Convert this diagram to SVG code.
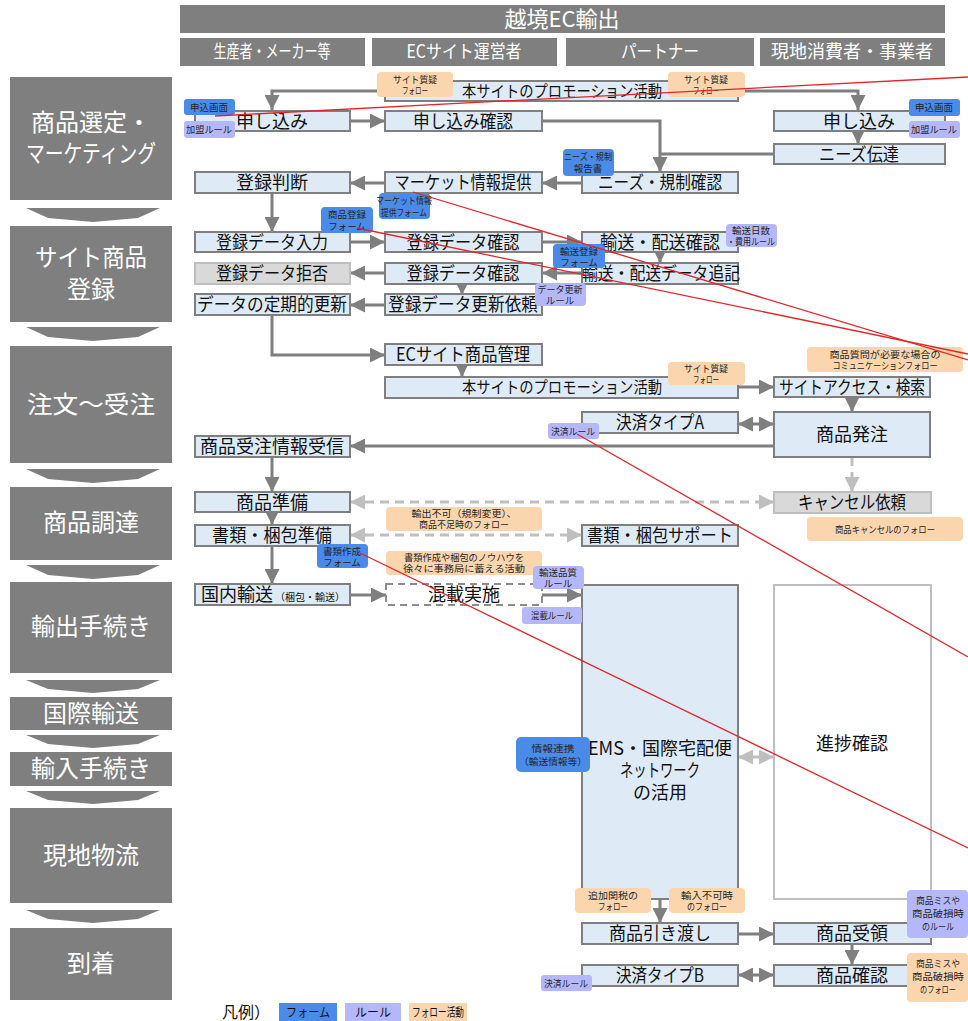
<svg xmlns="http://www.w3.org/2000/svg" width="968" height="1021" viewBox="0 0 968 1021">
<style>
text{font-family:"Noto Sans CJK JP","Noto Sans",sans-serif}
.n{fill:#deebf7;stroke:#7f7f7f;stroke-width:2}
.g{fill:#d9d9d9;stroke:#bfbfbf;stroke-width:2}
.w{fill:#fff;stroke:#bfbfbf;stroke-width:2}
.d{fill:#fff;stroke:#8c8c8c;stroke-width:2;stroke-dasharray:7 5}
.t{font-size:18px;fill:#111;text-anchor:middle}
.ph{fill:#7f7f7f}
.pt{font-size:24px;fill:#fff;text-anchor:middle}
.hd{font-size:18px;fill:#fff;text-anchor:middle}
.tb{fill:#4a8ae8}
.tr{fill:#b4b8fa}
.to{fill:#fad5ad}
.tt{font-size:9.5px;fill:#262626;text-anchor:middle}
.c{fill:none;stroke:#7f7f7f;stroke-width:3}
.cl{fill:none;stroke:#bfbfbf;stroke-width:3}
.cd{fill:none;stroke:#bfbfbf;stroke-width:3;stroke-dasharray:9 6}
.red{stroke:#e3262b;stroke-width:1.3;fill:none}
</style>
<defs>
<marker id="a" viewBox="0 0 10 10" refX="10" refY="5" markerWidth="16" markerHeight="15" markerUnits="userSpaceOnUse" orient="auto-start-reverse"><path d="M0,0 L10,5 L0,10 z" fill="#7f7f7f"/></marker>
<marker id="al" viewBox="0 0 10 10" refX="10" refY="5" markerWidth="16" markerHeight="15" markerUnits="userSpaceOnUse" orient="auto-start-reverse"><path d="M0,0 L10,5 L0,10 z" fill="#bfbfbf"/></marker>
</defs>
<rect width="968" height="1021" fill="#fff"/>

<!-- header -->
<g id="title"><rect x="180" y="5" width="765" height="28" class="ph"/><text x="562" y="27" font-size="22" fill="#fff" text-anchor="middle">越境EC輸出</text></g>
<g id="col-producer"><rect x="180" y="38" width="185" height="28" class="ph"/><text x="272" y="58" class="hd" textLength="117" lengthAdjust="spacingAndGlyphs">生産者・メーカー等</text></g>
<g id="col-ec"><rect x="372" y="38" width="185" height="28" class="ph"/><text x="464" y="58" class="hd" textLength="115" lengthAdjust="spacingAndGlyphs">ECサイト運営者</text></g>
<g id="col-partner"><rect x="566" y="38" width="188" height="28" class="ph"/><text x="660" y="58" class="hd" textLength="78" lengthAdjust="spacingAndGlyphs">パートナー</text></g>
<g id="col-local"><rect x="760" y="38" width="185" height="28" class="ph"/><text x="852" y="58" class="hd">現地消費者・事業者</text></g>

<!-- phases -->
<g id="phases">
<rect x="10" y="77" width="162" height="123" class="ph"/><text class="pt"><tspan x="91" y="131">商品選定・</tspan><tspan x="91" y="162" textLength="130" lengthAdjust="spacingAndGlyphs">マーケティング</tspan></text>
<polygon points="26,208 160,208 138,218 93,222 48,218" class="ph"/>
<rect x="10" y="226" width="162" height="96" class="ph"/><text class="pt"><tspan x="91" y="266" textLength="112" lengthAdjust="spacingAndGlyphs">サイト商品</tspan><tspan x="91" y="298">登録</tspan></text>
<polygon points="26,327 160,327 138,337 93,341 48,337" class="ph"/>
<rect x="10" y="346" width="162" height="117" class="ph"/><text x="91" y="413" class="pt" textLength="128" lengthAdjust="spacingAndGlyphs">注文〜受注</text>
<polygon points="26,469 160,469 138,479 93,483 48,479" class="ph"/>
<rect x="10" y="487" width="162" height="73" class="ph"/><text x="91" y="531" class="pt">商品調達</text>
<polygon points="26,565 160,565 138,575 93,579 48,575" class="ph"/>
<rect x="10" y="582" width="162" height="91" class="ph"/><text x="91" y="635" class="pt">輸出手続き</text>
<polygon points="26,680 160,680 138,689 93,693 48,689" class="ph"/>
<rect x="10" y="697" width="162" height="33" class="ph"/><text x="91" y="722" class="pt">国際輸送</text>
<polygon points="26,735 160,735 138,744 93,748 48,744" class="ph"/>
<rect x="10" y="752" width="162" height="34" class="ph"/><text x="91" y="777" class="pt">輸入手続き</text>
<polygon points="26,791 160,791 138,800 93,804 48,800" class="ph"/>
<rect x="10" y="808" width="162" height="95" class="ph"/><text x="91" y="864" class="pt">現地物流</text>
<polygon points="26,910 160,910 138,919 93,923 48,919" class="ph"/>
<rect x="10" y="928" width="162" height="72" class="ph"/><text x="91" y="972" class="pt">到着</text>
</g>

<!-- connectors -->
<g id="connectors">
<path class="c" d="M385,91 H272 V110" marker-end="url(#a)"/>
<path class="c" d="M738,91 H858 V110" marker-end="url(#a)"/>
<path class="c" d="M350,121 H385" marker-end="url(#a)"/>
<path class="c" d="M542,121 H660 V172" marker-end="url(#a)"/>
<path class="c" d="M858,124 V144" marker-end="url(#a)"/>
<path class="c" d="M774,154 H660"/>
<path class="c" d="M582,183 H542" marker-end="url(#a)"/>
<path class="c" d="M385,183 H350" marker-end="url(#a)"/>
<path class="c" d="M272,193 V232" marker-end="url(#a)"/>
<path class="c" d="M350,242 H385" marker-end="url(#a)"/>
<path class="c" d="M542,242 H582" marker-end="url(#a)"/>
<path class="c" d="M660,246 V263" marker-end="url(#a)"/>
<path class="c" d="M582,273 H542" marker-end="url(#a)"/>
<path class="c" d="M385,273 H350" marker-end="url(#a)"/>
<path class="c" d="M462,278 V295" marker-end="url(#a)"/>
<path class="c" d="M385,305 H350" marker-end="url(#a)"/>
<path class="c" d="M272,315 V355 H385" marker-end="url(#a)"/>
<path class="c" d="M462,359 V377" marker-end="url(#a)"/>
<path class="c" d="M738,387 H774" marker-end="url(#a)"/>
<path class="c" d="M852,397 V412" marker-end="url(#a)"/>
<path class="c" d="M738,424 H774" marker-start="url(#a)" marker-end="url(#a)"/>
<path class="c" d="M774,446 H350" marker-end="url(#a)"/>
<path class="cd" d="M852,457 V492" marker-end="url(#al)"/>
<path class="c" d="M272,457 V492" marker-end="url(#a)"/>
<path class="cd" d="M350,502 H774" marker-start="url(#al)" marker-end="url(#al)"/>
<path class="c" d="M272,506 V525" marker-end="url(#a)"/>
<path class="cd" d="M350,535 H582" marker-start="url(#al)" marker-end="url(#al)"/>
<path class="c" d="M272,546 V584" marker-end="url(#a)"/>
<path class="c" d="M350,595 H386" marker-end="url(#a)"/>
<path class="c" d="M542,595 H582" marker-end="url(#a)"/>
<path class="cl" d="M738,757 H774" marker-start="url(#al)" marker-end="url(#al)"/>
<path class="c" d="M660,899 V923" marker-end="url(#a)"/>
<path class="c" d="M738,934 H774" marker-end="url(#a)"/>
<path class="c" d="M852,944 V965" marker-end="url(#a)"/>
<path class="c" d="M738,975 H774" marker-start="url(#a)" marker-end="url(#a)"/>
</g>

<!-- nodes -->
<g id="n-promo1"><rect x="385" y="81" width="353" height="20" class="n"/><text x="562" y="97" class="t" style="font-size:16px" textLength="200" lengthAdjust="spacingAndGlyphs">本サイトのプロモーション活動</text></g>
<g id="n-apply-l"><rect x="195" y="111" width="155" height="20" class="n"/><text x="272" y="128" class="t">申し込み</text></g>
<g id="n-apply-confirm"><rect x="385" y="111" width="157" height="20" class="n"/><text x="463" y="128" class="t" textLength="100" lengthAdjust="spacingAndGlyphs">申し込み確認</text></g>
<g id="n-apply-r"><rect x="774" y="111" width="171" height="20" class="n"/><text x="859" y="128" class="t">申し込み</text></g>
<g id="n-needs-send"><rect x="774" y="144" width="171" height="20" class="n"/><text x="859" y="161" class="t" textLength="80" lengthAdjust="spacingAndGlyphs">ニーズ伝達</text></g>
<g id="n-reg-judge"><rect x="195" y="172" width="155" height="21" class="n"/><text x="272" y="189" class="t">登録判断</text></g>
<g id="n-market"><rect x="385" y="172" width="157" height="21" class="n"/><text x="463" y="189" class="t" textLength="137" lengthAdjust="spacingAndGlyphs">マーケット情報提供</text></g>
<g id="n-needs-check"><rect x="582" y="172" width="156" height="21" class="n"/><text x="660" y="189" class="t" textLength="124" lengthAdjust="spacingAndGlyphs">ニーズ・規制確認</text></g>
<g id="n-reg-input"><rect x="195" y="232" width="155" height="20" class="n"/><text x="272" y="249" class="t" textLength="112" lengthAdjust="spacingAndGlyphs">登録データ入力</text></g>
<g id="n-reg-check1"><rect x="385" y="232" width="157" height="20" class="n"/><text x="463" y="249" class="t" textLength="113" lengthAdjust="spacingAndGlyphs">登録データ確認</text></g>
<g id="n-ship-check"><rect x="582" y="232" width="156" height="20" class="n"/><text x="660" y="249" class="t" textLength="120" lengthAdjust="spacingAndGlyphs">輸送・配送確認</text></g>
<g id="n-reg-reject"><rect x="195" y="263" width="155" height="21" class="g"/><text x="272" y="280" class="t" textLength="112" lengthAdjust="spacingAndGlyphs">登録データ拒否</text></g>
<g id="n-reg-check2"><rect x="385" y="263" width="157" height="21" class="n"/><text x="463" y="280" class="t" textLength="113" lengthAdjust="spacingAndGlyphs">登録データ確認</text></g>
<g id="n-ship-add"><rect x="582" y="263" width="156" height="21" class="n"/><text x="661" y="280" class="t" textLength="158" lengthAdjust="spacingAndGlyphs">輸送・配送データ追記</text></g>
<g id="n-update"><rect x="195" y="294" width="155" height="21" class="n"/><text x="272" y="311" class="t" textLength="150" lengthAdjust="spacingAndGlyphs">データの定期的更新</text></g>
<g id="n-update-req"><rect x="385" y="294" width="157" height="21" class="n"/><text x="463" y="311" class="t" textLength="150" lengthAdjust="spacingAndGlyphs">登録データ更新依頼</text></g>
<g id="n-ec-manage"><rect x="385" y="344" width="157" height="21" class="n"/><text x="463" y="361" class="t" textLength="134" lengthAdjust="spacingAndGlyphs">ECサイト商品管理</text></g>
<g id="n-promo2"><rect x="385" y="377" width="353" height="21" class="n"/><text x="562" y="393" class="t" style="font-size:16px" textLength="200" lengthAdjust="spacingAndGlyphs">本サイトのプロモーション活動</text></g>
<g id="n-access"><rect x="774" y="377" width="156" height="20" class="n"/><text x="852" y="394" class="t" textLength="146" lengthAdjust="spacingAndGlyphs">サイトアクセス・検索</text></g>
<g id="n-payA"><rect x="582" y="412" width="156" height="21" class="n"/><text x="660" y="429" class="t" textLength="88" lengthAdjust="spacingAndGlyphs">決済タイプA</text></g>
<g id="n-order"><rect x="774" y="412" width="156" height="45" class="n"/><text x="852" y="441" class="t">商品発注</text></g>
<g id="n-order-recv"><rect x="195" y="436" width="155" height="21" class="n"/><text x="272" y="453" class="t">商品受注情報受信</text></g>
<g id="n-prepare"><rect x="195" y="492" width="155" height="20" class="n"/><text x="272" y="509" class="t">商品準備</text></g>
<g id="n-cancel"><rect x="774" y="492" width="157" height="21" class="g"/><text x="852" y="509" class="t" textLength="108" lengthAdjust="spacingAndGlyphs">キャンセル依頼</text></g>
<g id="n-docs"><rect x="195" y="525" width="155" height="21" class="n"/><text x="272" y="542" class="t" textLength="120" lengthAdjust="spacingAndGlyphs">書類・梱包準備</text></g>
<g id="n-docs-support"><rect x="582" y="525" width="156" height="21" class="n"/><text x="660" y="542" class="t" textLength="146" lengthAdjust="spacingAndGlyphs">書類・梱包サポート</text></g>
<g id="n-domestic"><rect x="195" y="584" width="155" height="21" class="n"/><text x="201" y="601" font-size="18" fill="#111">国内輸送<tspan font-size="10" dx="2">（梱包・輸送）</tspan></text></g>
<g id="n-consolidate"><rect x="386" y="584" width="156" height="21" class="d"/><text x="464" y="601" class="t">混載実施</text></g>
<g id="n-ems"><rect x="582" y="585" width="156" height="314" class="n"/><text class="t"><tspan x="660" y="755">EMS・国際宅配便</tspan><tspan x="660" y="777" textLength="80" lengthAdjust="spacingAndGlyphs">ネットワーク</tspan><tspan x="660" y="799">の活用</tspan></text></g>
<g id="n-progress"><rect x="774" y="585" width="157" height="314" class="w"/><text x="852" y="750" class="t">進捗確認</text></g>
<g id="n-handover"><rect x="582" y="923" width="156" height="21" class="n"/><text x="660" y="940" class="t" textLength="102" lengthAdjust="spacingAndGlyphs">商品引き渡し</text></g>
<g id="n-receive"><rect x="774" y="923" width="157" height="21" class="n"/><text x="852" y="940" class="t">商品受領</text></g>
<g id="n-payB"><rect x="582" y="965" width="156" height="21" class="n"/><text x="660" y="982" class="t" textLength="88" lengthAdjust="spacingAndGlyphs">決済タイプB</text></g>
<g id="n-verify"><rect x="774" y="965" width="157" height="21" class="n"/><text x="852" y="982" class="t">商品確認</text></g>

<!-- tags -->
<g id="tag-follow1"><rect x="377" y="72" width="76" height="25" rx="4" class="to"/><text class="tt"><tspan x="415" y="83" textLength="44" lengthAdjust="spacingAndGlyphs">サイト質疑</tspan><tspan x="415" y="94" textLength="26" lengthAdjust="spacingAndGlyphs">フォロー</tspan></text></g>
<g id="tag-follow2"><rect x="668" y="72" width="77" height="25" rx="4" class="to"/><text class="tt"><tspan x="706" y="83" textLength="44" lengthAdjust="spacingAndGlyphs">サイト質疑</tspan><tspan x="706" y="94" textLength="26" lengthAdjust="spacingAndGlyphs">フォロー</tspan></text></g>
<g id="tag-form-apply-l"><rect x="184" y="99" width="51" height="16" rx="3" class="tb"/><text x="209" y="111" class="tt">申込画面</text></g>
<g id="tag-rule-join-l"><rect x="184" y="121" width="51" height="17" rx="3" class="tr"/><text x="209" y="133" class="tt" textLength="46" lengthAdjust="spacingAndGlyphs">加盟ルール</text></g>
<g id="tag-form-apply-r"><rect x="909" y="99" width="51" height="17" rx="3" class="tb"/><text x="934" y="111" class="tt">申込画面</text></g>
<g id="tag-rule-join-r"><rect x="909" y="121" width="51" height="17" rx="3" class="tr"/><text x="934" y="133" class="tt" textLength="46" lengthAdjust="spacingAndGlyphs">加盟ルール</text></g>
<g id="tag-form-needs"><rect x="563" y="149" width="51" height="27" rx="4" class="tb"/><text class="tt"><tspan x="588" y="160" textLength="48" lengthAdjust="spacingAndGlyphs">ニーズ・規制</tspan><tspan x="588" y="172">報告書</tspan></text></g>
<g id="tag-form-market"><rect x="379" y="193" width="51" height="26" rx="4" class="tb"/><text class="tt"><tspan x="404" y="204" textLength="56" lengthAdjust="spacingAndGlyphs">マーケット情報</tspan><tspan x="404" y="216" textLength="46" lengthAdjust="spacingAndGlyphs">提供フォーム</tspan></text></g>
<g id="tag-form-reg"><rect x="321" y="207" width="52" height="26" rx="4" class="tb"/><text class="tt"><tspan x="347" y="218">商品登録</tspan><tspan x="347" y="230">フォーム</tspan></text></g>
<g id="tag-rule-ship"><rect x="726" y="224" width="51" height="23" rx="4" class="tr"/><text class="tt"><tspan x="751" y="234">輸送日数</tspan><tspan x="751" y="245" textLength="48" lengthAdjust="spacingAndGlyphs">・費用ルール</tspan></text></g>
<g id="tag-form-ship"><rect x="553" y="244" width="52" height="24" rx="4" class="tb"/><text class="tt"><tspan x="579" y="255">輸送登録</tspan><tspan x="579" y="266">フォーム</tspan></text></g>
<g id="tag-rule-update"><rect x="535" y="283" width="51" height="23" rx="4" class="tr"/><text class="tt"><tspan x="560" y="293" textLength="45" lengthAdjust="spacingAndGlyphs">データ更新</tspan><tspan x="560" y="304">ルール</tspan></text></g>
<g id="tag-follow3"><rect x="668" y="362" width="77" height="23" rx="4" class="to"/><text class="tt"><tspan x="706" y="372" textLength="44" lengthAdjust="spacingAndGlyphs">サイト質疑</tspan><tspan x="706" y="383" textLength="26" lengthAdjust="spacingAndGlyphs">フォロー</tspan></text></g>
<g id="tag-follow-question"><rect x="807" y="347" width="156" height="25" rx="4" class="to"/><text class="tt"><tspan x="885" y="358" textLength="111" lengthAdjust="spacingAndGlyphs">商品質問が必要な場合の</tspan><tspan x="885" y="369" textLength="105" lengthAdjust="spacingAndGlyphs">コミュニケーションフォロー</tspan></text></g>
<g id="tag-rule-payA"><rect x="548" y="423" width="51" height="16" rx="3" class="tr"/><text x="573" y="435" class="tt" textLength="44" lengthAdjust="spacingAndGlyphs">決済ルール</text></g>
<g id="tag-follow-export"><rect x="386" y="507" width="156" height="24" rx="4" class="to"/><text class="tt"><tspan x="464" y="517" textLength="105" lengthAdjust="spacingAndGlyphs">輸出不可（規制変更）、</tspan><tspan x="464" y="528" textLength="90" lengthAdjust="spacingAndGlyphs">商品不足時のフォロー</tspan></text></g>
<g id="tag-follow-cancel"><rect x="807" y="517" width="156" height="24" rx="4" class="to"/><text x="885" y="533" class="tt" textLength="100" lengthAdjust="spacingAndGlyphs">商品キャンセルのフォロー</text></g>
<g id="tag-form-docs"><rect x="317" y="544" width="51" height="24" rx="4" class="tb"/><text class="tt"><tspan x="342" y="555">書類作成</tspan><tspan x="342" y="566">フォーム</tspan></text></g>
<g id="tag-follow-knowhow"><rect x="386" y="551" width="156" height="24" rx="4" class="to"/><text class="tt"><tspan x="464" y="561" textLength="120" lengthAdjust="spacingAndGlyphs">書類作成や梱包のノウハウを</tspan><tspan x="464" y="572" textLength="122" lengthAdjust="spacingAndGlyphs">徐々に事務局に蓄える活動</tspan></text></g>
<g id="tag-rule-quality"><rect x="533" y="566" width="51" height="23" rx="4" class="tr"/><text class="tt"><tspan x="558" y="576">輸送品質</tspan><tspan x="558" y="587">ルール</tspan></text></g>
<g id="tag-rule-consolidate"><rect x="522" y="607" width="60" height="17" rx="3" class="tr"/><text x="552" y="619" class="tt" textLength="42" lengthAdjust="spacingAndGlyphs">混載ルール</text></g>
<g id="tag-form-info"><rect x="516" y="737" width="74" height="35" rx="5" class="tb"/><text class="tt"><tspan x="553" y="752" textLength="43" lengthAdjust="spacingAndGlyphs">情報連携</tspan><tspan x="553" y="765" textLength="68" lengthAdjust="spacingAndGlyphs">（輸送情報等）</tspan></text></g>
<g id="tag-follow-duty"><rect x="575" y="888" width="76" height="25" rx="4" class="to"/><text class="tt"><tspan x="613" y="899" textLength="50" lengthAdjust="spacingAndGlyphs">追加関税の</tspan><tspan x="613" y="910" textLength="30" lengthAdjust="spacingAndGlyphs">フォロー</tspan></text></g>
<g id="tag-follow-import"><rect x="669" y="888" width="76" height="25" rx="4" class="to"/><text class="tt"><tspan x="707" y="899" textLength="52" lengthAdjust="spacingAndGlyphs">輸入不可時</tspan><tspan x="707" y="910" textLength="40" lengthAdjust="spacingAndGlyphs">のフォロー</tspan></text></g>
<g id="tag-rule-damage"><rect x="907" y="890" width="61" height="48" rx="4" class="tr"/><text class="tt"><tspan x="938" y="904" textLength="44" lengthAdjust="spacingAndGlyphs">商品ミスや</tspan><tspan x="938" y="917" textLength="52" lengthAdjust="spacingAndGlyphs">商品破損時</tspan><tspan x="938" y="930" textLength="32" lengthAdjust="spacingAndGlyphs">のルール</tspan></text></g>
<g id="tag-rule-payB"><rect x="541" y="975" width="51" height="16" rx="3" class="tr"/><text x="566" y="987" class="tt" textLength="44" lengthAdjust="spacingAndGlyphs">決済ルール</text></g>
<g id="tag-follow-damage"><rect x="907" y="953" width="61" height="49" rx="4" class="to"/><text class="tt"><tspan x="938" y="967" textLength="44" lengthAdjust="spacingAndGlyphs">商品ミスや</tspan><tspan x="938" y="980" textLength="52" lengthAdjust="spacingAndGlyphs">商品破損時</tspan><tspan x="938" y="993" textLength="36" lengthAdjust="spacingAndGlyphs">のフォロー</tspan></text></g>

<!-- red lines -->
<g id="red-lines">
<line class="red" x1="215" y1="116" x2="968" y2="77"/>
<line class="red" x1="413" y1="192" x2="968" y2="360"/>
<line class="red" x1="357" y1="228" x2="968" y2="354"/>
<line class="red" x1="577" y1="434" x2="968" y2="657"/>
<line class="red" x1="360" y1="553" x2="968" y2="848"/>
</g>

<!-- legend -->
<g id="legend">
<text x="222" y="1018" font-size="16" fill="#111">凡例）</text>
<rect x="279" y="1003" width="58" height="18" class="tb"/><text x="308" y="1017" font-size="12" fill="#111" text-anchor="middle" textLength="44" lengthAdjust="spacingAndGlyphs">フォーム</text>
<rect x="345" y="1003" width="56" height="18" class="tr"/><text x="373" y="1017" font-size="12" fill="#111" text-anchor="middle" textLength="36" lengthAdjust="spacingAndGlyphs">ルール</text>
<rect x="409" y="1003" width="58" height="18" class="to"/><text x="438" y="1017" font-size="12" fill="#111" text-anchor="middle" textLength="52" lengthAdjust="spacingAndGlyphs">フォロー活動</text>
</g>
</svg>
